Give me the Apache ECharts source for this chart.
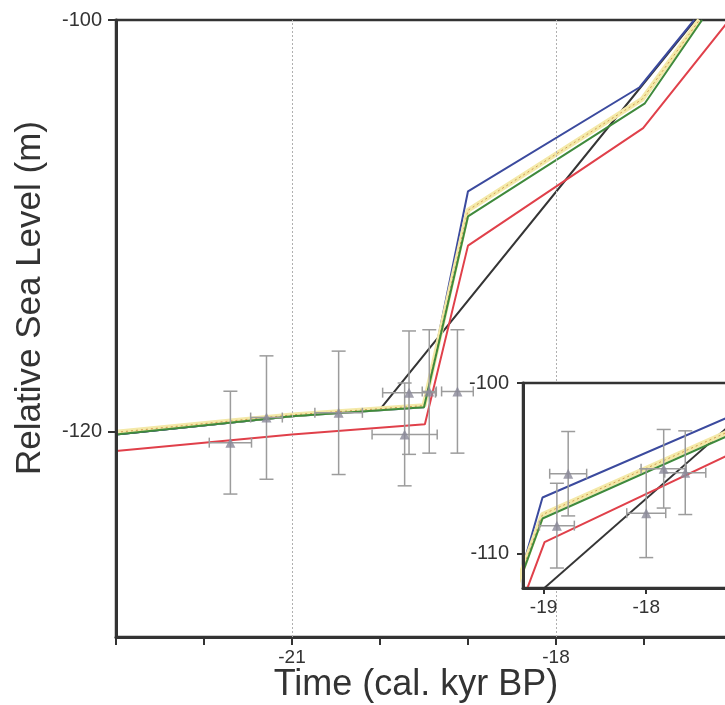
<!DOCTYPE html>
<html><head><meta charset="utf-8">
<script src="https://cdn.jsdelivr.net/npm/echarts@6/dist/echarts.min.js"></script>
<style>html,body{margin:0;padding:0;background:#fff}#c{width:725px;height:705px}</style>
</head><body><div id="c"></div>
<script>
// ---- Main panel data: [time (kyr), RSL (m)] ----
const mainBlack  = [[-23,-120.15],[-21,-119.27],[-20.0,-118.93],[-16.42,-100]];
const mainBlue   = [[-23,-120.15],[-21,-119.27],[-19.5,-118.83],[-19.0,-108.33],[-17.05,-103.27],[-16.43,-100]];
const mainRed    = [[-23,-120.96],[-21,-120.15],[-19.49,-119.66],[-19.0,-110.97],[-17.01,-105.26],[-16.03,-100]];
const mainYellow = [[-23,-120.05],[-21,-119.2],[-19.5,-118.75],[-19.0,-109.25],[-17.02,-103.85],[-16.37,-100]];
const mainGreen  = [[-23,-120.15],[-21,-119.27],[-19.5,-118.83],[-19.0,-109.55],[-16.99,-104.05],[-16.34,-100]];
// [time, RSL, time error, RSL error]
const mainPoints = [
  [-21.70,-120.55,0.24,2.5],
  [-21.29,-119.33,0.18,3.0],
  [-20.47,-119.10,0.27,3.0],
  [-19.67,-118.12,0.30,3.0],
  [-19.44,-118.06,0.08,3.0],
  [-19.12,-118.06,0.18,3.0],
  [-19.72,-120.15,0.37,2.5]
];
// ---- Inset panel data ----
const insetBlack  = [[-19.0,-112.04],[-17.2,-102.55]];
const insetBlue   = [[-19.3,-112.8],[-19.01,-106.70],[-17.2,-102.0]];
const insetRed    = [[-19.3,-114.3],[-18.99,-109.32],[-17.2,-104.22]];
const insetYellow = [[-19.3,-112.5],[-19.01,-107.7],[-17.2,-102.85]];
const insetGreen  = [[-19.3,-112.7],[-19.01,-107.93],[-17.2,-103.08]];
const insetPoints = [
  [-18.76,-105.31,0.18,2.47],
  [-18.87,-108.35,0.17,2.48],
  [-18.00,-107.62,0.19,2.6],
  [-17.83,-105.02,0.22,2.3],
  [-17.62,-105.25,0.20,2.45]
];
// ---- Axis ticks / labels ----
const mainXTicks = [-23,-22,-21,-20,-19,-18,-17,-16,-15];
const mainXLabels = [-21,-18];
const mainXGrid = [-21,-18];
const mainYLabels = [-120,-100];
const insetXLabels = [-19,-18,-17];
const insetYLabels = [-110,-100];

const FONT = '"Liberation Sans", Arial, Helvetica, sans-serif';
const TXT = '#333';
const chart = echarts.init(document.getElementById('c'), null, {renderer:'canvas'});

function errRender(params, api){
  const x = api.value(0), y = api.value(1), ex = api.value(2), ey = api.value(3);
  const top = api.coord([x, y+ey]), bot = api.coord([x, y-ey]);
  const l = api.coord([x-ex, y]), r = api.coord([x+ex, y]);
  const cw = 7, ch = 5;
  const st = {stroke:'#9c9c9c', lineWidth:1.5, fill:null};
  const ln = (x1,y1,x2,y2)=>({type:'line', shape:{x1,y1,x2,y2}, style:st});
  return {type:'group', children:[
    ln(top[0],top[1],bot[0],bot[1]),
    ln(top[0]-cw,top[1],top[0]+cw,top[1]),
    ln(bot[0]-cw,bot[1],bot[0]+cw,bot[1]),
    ln(l[0],l[1],r[0],r[1]),
    ln(l[0],l[1]-ch,l[0],l[1]+ch),
    ln(r[0],r[1]-ch,r[0],r[1]+ch)
  ]};
}

function lineSeries(data, color, idx, z, extra){
  return Object.assign({
    type:'line', data, xAxisIndex:idx, yAxisIndex:idx, symbol:'none', z,
    lineStyle:{color, width:2}, silent:true, animation:false, clip:true
  }, extra||{});
}

function panelSeries(idx, z, d){
  return [
    lineSeries(d.black, '#353535', idx, z),
    lineSeries(d.blue, '#3b4a9e', idx, z+0.1),
    lineSeries(d.red, '#e0404a', idx, z+0.2),
    lineSeries(d.yellow, '#f4e9a8', idx, z+0.3, {lineStyle:{color:'#f4e9a8', width:5}}),
    lineSeries(d.yellow, '#d09a50', idx, z+0.4, {lineStyle:{color:'#d09a50', width:1, type:[2,3]}}),
    lineSeries(d.green, '#3f8a3c', idx, z+0.5),
    {type:'custom', xAxisIndex:idx, yAxisIndex:idx, data:d.points, z:z+0.6,
     encode:{x:0,y:1}, renderItem:errRender, silent:true, animation:false},
    {type:'scatter', xAxisIndex:idx, yAxisIndex:idx, data:d.points.map(p=>[p[0],p[1]]), z:z+0.7,
     symbol:'triangle', symbolSize:10, itemStyle:{color:'#8a8898'}, silent:true, animation:false}
  ];
}

const series = [
  {type:'line', data:[], xAxisIndex:0, yAxisIndex:0, z:1, silent:true,
   markLine:{silent:true, symbol:'none', label:{show:false}, animation:false,
     lineStyle:{color:'#b0b0b0', type:[2,2], width:1},
     data: mainXGrid.map(v=>({xAxis:v}))}},
  ...panelSeries(0, 2, {black:mainBlack, blue:mainBlue, red:mainRed, yellow:mainYellow, green:mainGreen, points:mainPoints}),
  ...panelSeries(1, 20, {black:insetBlack, blue:insetBlue, red:insetRed, yellow:insetYellow, green:insetGreen, points:insetPoints})
];

chart.setOption({
  animation:false,
  backgroundColor:'#fff',
  textStyle:{fontFamily:FONT},
  grid:[
    {left:116, top:20, width:704, height:617, show:true, borderColor:'#333', borderWidth:2.5, z:0,
     outerBoundsMode:'none', containLabel:false},
    {left:523, top:383, width:267, height:205, show:true, backgroundColor:'#fff', borderColor:'#333', borderWidth:2.5, z:15,
     outerBoundsMode:'none', containLabel:false}
  ],
  xAxis:[
    {type:'value', gridIndex:0, min:-23, max:-15, z:3,
     axisLine:{show:true, onZero:false, lineStyle:{color:'#333', width:3}},
     axisTick:{show:true, inside:false, length:8, customValues:mainXTicks, lineStyle:{color:'#333', width:2}},
     axisLabel:{customValues:mainXLabels, fontSize:19, color:TXT, margin:11, fontFamily:FONT},
     splitLine:{show:false}},
    {type:'value', gridIndex:1, min:-19.2, max:-16.6, z:25,
     axisLine:{show:true, onZero:false, lineStyle:{color:'#333', width:3}},
     axisTick:{show:true, length:6, customValues:insetXLabels, lineStyle:{color:'#333', width:2}},
     axisLabel:{customValues:insetXLabels, fontSize:19, color:TXT, margin:10, fontFamily:FONT},
     splitLine:{show:false}}
  ],
  yAxis:[
    {type:'value', gridIndex:0, min:-130, max:-100, z:3,
     axisLine:{show:true, onZero:false, lineStyle:{color:'#333', width:3}},
     axisTick:{show:true, length:8, customValues:mainYLabels, lineStyle:{color:'#333', width:2}},
     axisLabel:{customValues:mainYLabels, fontSize:20, color:TXT, margin:14, fontFamily:FONT},
     splitLine:{show:false}},
    {type:'value', gridIndex:1, min:-112, max:-100, z:25,
     axisLine:{show:true, onZero:false, lineStyle:{color:'#333', width:3}},
     axisTick:{show:true, length:6, customValues:insetYLabels, lineStyle:{color:'#333', width:2}},
     axisLabel:{customValues:insetYLabels, fontSize:20, color:TXT, margin:14, fontFamily:FONT},
     splitLine:{show:false}}
  ],
  graphic:[
    {type:'text', x:30, y:298, rotation:Math.PI/2, z:100,
     style:{text:'Relative Sea Level (m)', font:'35px ' + FONT, fill:TXT, textAlign:'center', textVerticalAlign:'middle'}},
    {type:'text', x:416, y:685, z:100,
     style:{text:'Time (cal. kyr BP)', font:'36px ' + FONT, fill:TXT, textAlign:'center', textVerticalAlign:'middle'}}
  ],
  series
});
</script></body></html>
